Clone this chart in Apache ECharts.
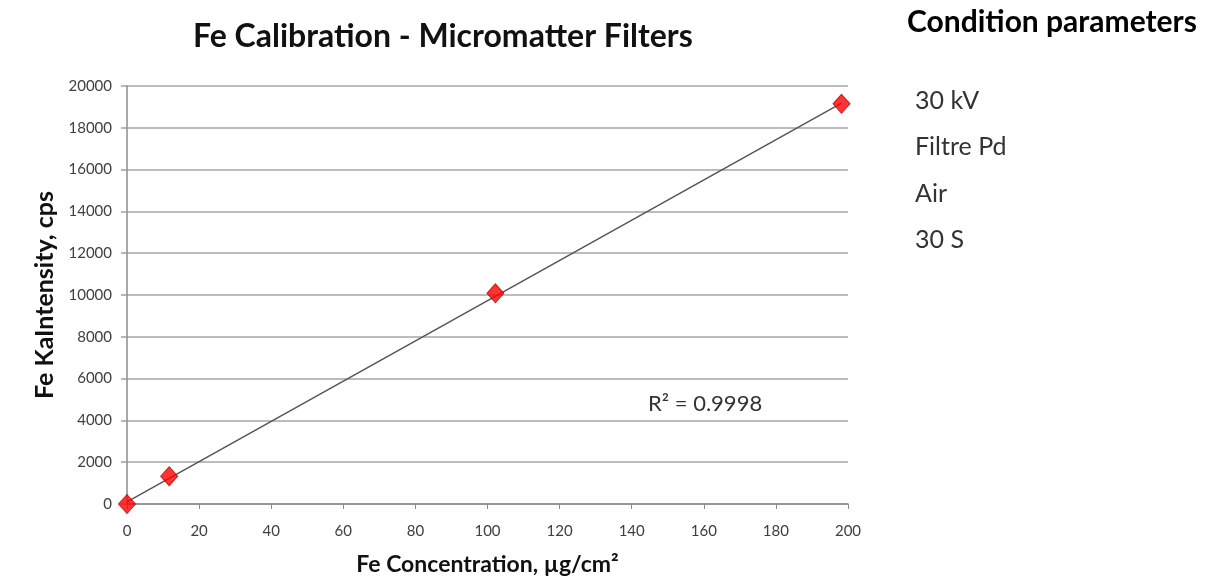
<!DOCTYPE html>
<html>
<head>
<meta charset="utf-8">
<title>Fe Calibration - Micromatter Filters</title>
<script src="https://cdn.jsdelivr.net/npm/echarts@6/dist/echarts.min.js"></script>
<style>
  html, body { margin: 0; padding: 0; background: #fff; }
  #chart { width: 1205px; height: 576px; }
</style>
</head>
<body>
<div id="chart"></div>
<script>
// Micromatter standards: concentration (ug/cm2) vs Fe Ka intensity (cps)
const concentration = [0, 11.7, 102.2, 198.2];
const intensity = [0, 1330, 10080, 19150];

// linear trendline end points as drawn in the picture
const trendX = [0, 198.2];
const trendY = [100, 19180];
const rSquared = 'R² = 0.9998';

const conditionTitle = 'Condition parameters';
const conditionItems = ['30 kV', 'Filtre Pd', 'Air', '30 S'];

const FONT = 'Lato, "Open Sans", sans-serif';

const chart = echarts.init(document.getElementById('chart'));

const points = concentration.map((c, i) => [c, intensity[i]]);
const trend = trendX.map((x, i) => [x, trendY[i]]);

const graphics = [
  {
    type: 'text',
    left: 193,
    top: 21,
    style: {
      text: 'Fe Calibration - Micromatter Filters',
      font: 'bold 32px ' + FONT,
      fill: '#111'
    }
  },
  {
    type: 'text',
    left: 907,
    top: 7,
    style: {
      text: conditionTitle,
      font: 'bold 30px ' + FONT,
      fill: '#000'
    }
  },
  {
    type: 'text',
    left: 648,
    top: 393,
    style: {
      text: rSquared,
      font: '22px ' + FONT,
      fill: '#333'
    }
  }
];

conditionItems.forEach((txt, i) => {
  graphics.push({
    type: 'text',
    left: 915,
    top: 88 + i * 46.5,
    style: {
      text: txt,
      font: '25px ' + FONT,
      fill: '#333'
    }
  });
});

const option = {
  animation: false,
  grid: {
    left: 127,
    right: 357,
    top: 86,
    bottom: 72,
    outerBoundsMode: 'none'
  },
  xAxis: {
    type: 'value',
    min: 0,
    max: 200,
    interval: 20,
    name: 'Fe Concentration, µg/cm²',
    nameLocation: 'middle',
    nameGap: 49,
    nameTextStyle: {
      fontFamily: FONT,
      fontWeight: 'bold',
      fontSize: 23,
      color: '#111'
    },
    axisLine: { lineStyle: { color: '#8c8c8c', width: 1.5 } },
    axisTick: { show: true, length: 5, lineStyle: { color: '#8c8c8c' } },
    axisLabel: {
      fontFamily: FONT,
      fontSize: 15,
      color: '#404040',
      margin: 20
    },
    splitLine: { show: false }
  },
  yAxis: {
    type: 'value',
    min: 0,
    max: 20000,
    interval: 2000,
    name: 'Fe KaIntensity, cps',
    nameLocation: 'middle',
    nameGap: 55,
    nameTextStyle: {
      fontFamily: FONT,
      fontWeight: 'bold',
      fontSize: 25,
      color: '#111'
    },
    axisLine: { show: true, lineStyle: { color: '#8c8c8c', width: 1.5 } },
    axisTick: { show: true, length: 6, lineStyle: { color: '#a0a0a0', width: 1.5 } },
    axisLabel: {
      fontFamily: FONT,
      fontSize: 15,
      color: '#404040',
      margin: 15,
      formatter: v => String(v)
    },
    splitLine: { lineStyle: { color: '#a6a6a6', width: 1.5 } }
  },
  graphic: graphics,
  series: [
    {
      name: 'Linear trend',
      type: 'line',
      data: trend,
      symbol: 'none',
      lineStyle: { color: '#555', width: 1.5 },
      z: 2
    },
    {
      name: 'Fe',
      type: 'scatter',
      data: points,
      symbol: 'diamond',
      symbolSize: [17, 19],
      itemStyle: { color: '#ff0000', borderColor: '#c00000', borderWidth: 1 },
      z: 3
    }
  ]
};

chart.setOption(option);
</script>
</body>
</html>
